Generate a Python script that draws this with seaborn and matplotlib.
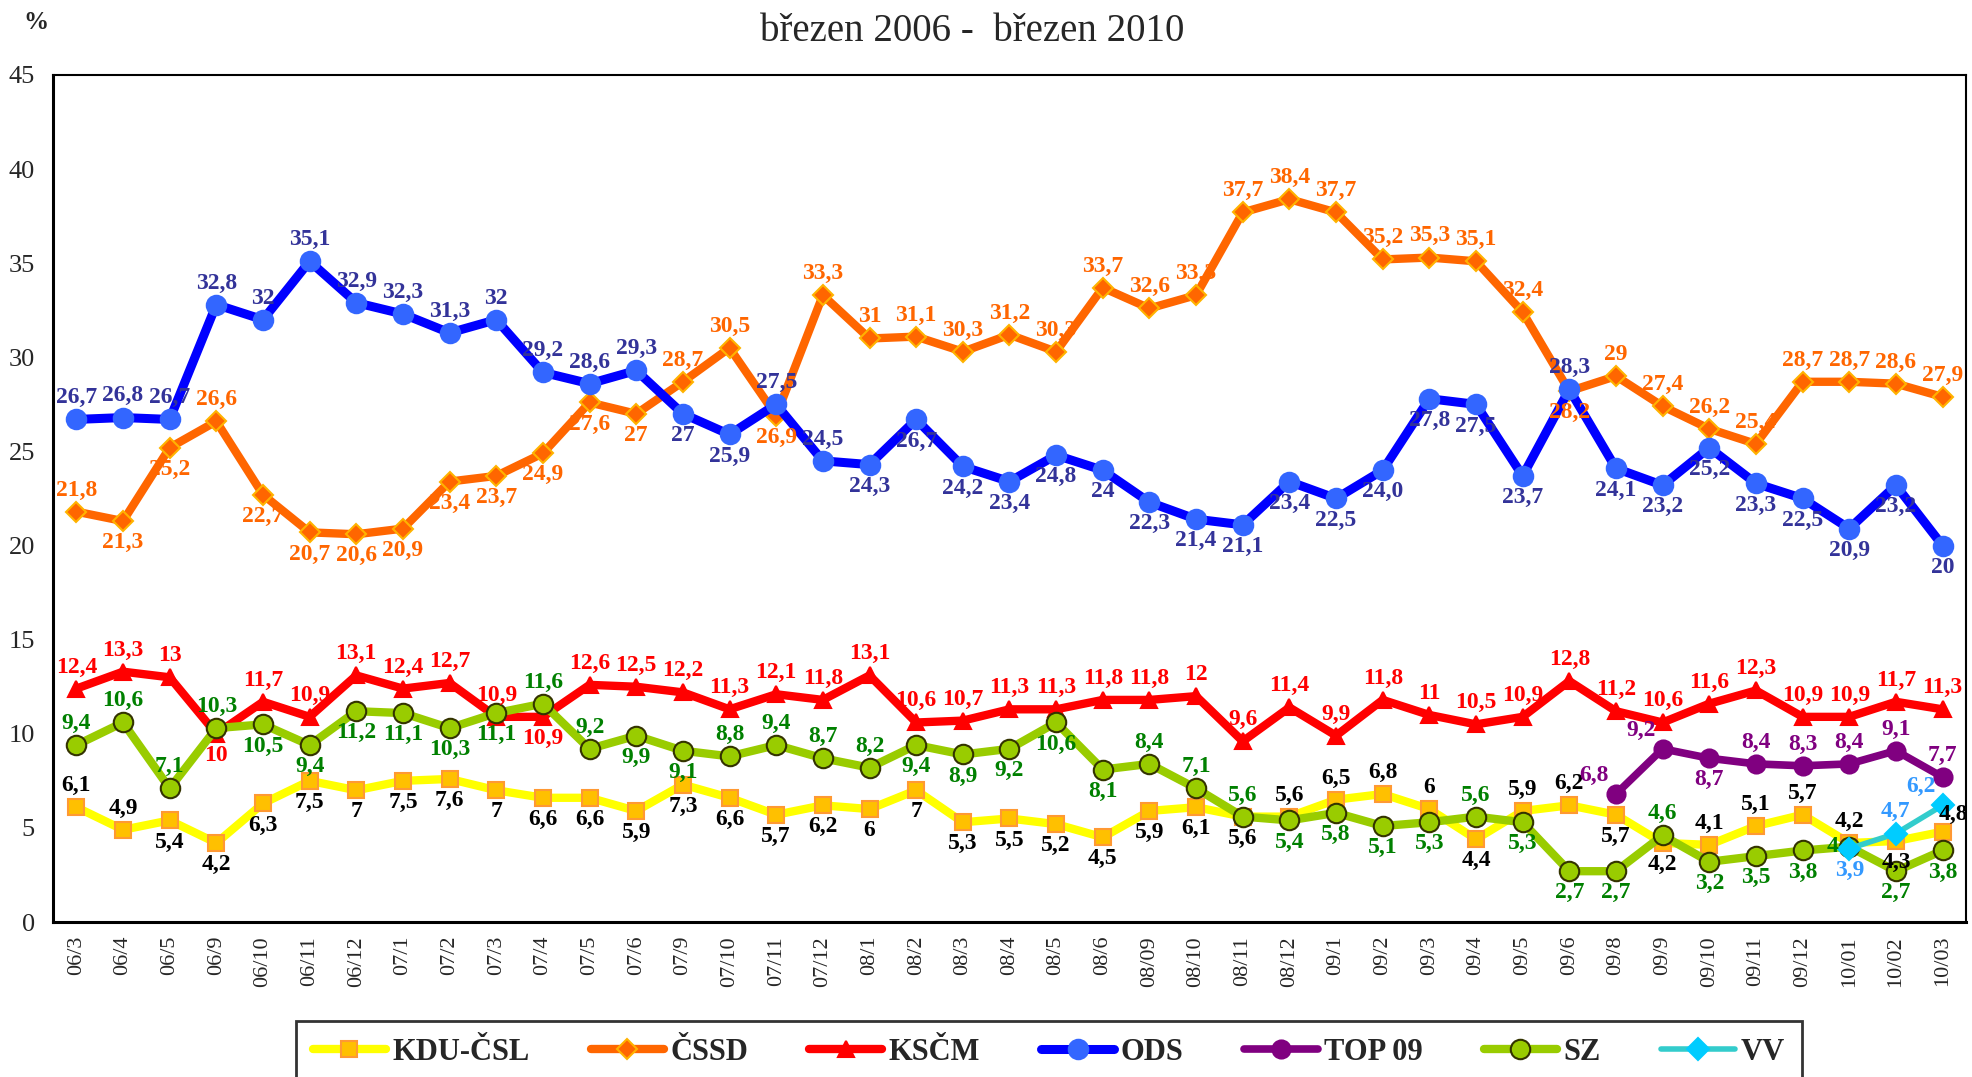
import numpy as np
import pandas as pd
import seaborn as sns
import matplotlib.pyplot as plt

nan = np.nan

months = ['06/3', '06/4', '06/5', '06/9', '06/10', '06/11', '06/12', '07/1', '07/2', '07/3',
          '07/4', '07/5', '07/6', '07/9', '07/10', '07/11', '07/12', '08/1', '08/2', '08/3',
          '08/4', '08/5', '08/6', '08/09', '08/10', '08/11', '08/12', '09/1', '09/2', '09/3',
          '09/4', '09/5', '09/6', '09/8', '09/9', '09/10', '09/11', '09/12', '10/01', '10/02', '10/03']

kdu = [6.1, 4.9, 5.4, 4.2, 6.3, 7.5, 7, 7.5, 7.6, 7, 6.6, 6.6, 5.9, 7.3, 6.6, 5.7, 6.2, 6, 7, 5.3,
       5.5, 5.2, 4.5, 5.9, 6.1, 5.6, 5.6, 6.5, 6.8, 6, 4.4, 5.9, 6.2, 5.7, 4.2, 4.1, 5.1, 5.7, 4.2, 4.3, 4.8]
cssd = [21.8, 21.3, 25.2, 26.6, 22.7, 20.7, 20.6, 20.9, 23.4, 23.7, 24.9, 27.6, 27, 28.7, 30.5, 26.9,
        33.3, 31, 31.1, 30.3, 31.2, 30.3, 33.7, 32.6, 33.3, 37.7, 38.4, 37.7, 35.2, 35.3, 35.1, 32.4,
        28.2, 29, 27.4, 26.2, 25.4, 28.7, 28.7, 28.6, 27.9]
kscm = [12.4, 13.3, 13, 10, 11.7, 10.9, 13.1, 12.4, 12.7, 10.9, 10.9, 12.6, 12.5, 12.2, 11.3, 12.1,
        11.8, 13.1, 10.6, 10.7, 11.3, 11.3, 11.8, 11.8, 12, 9.6, 11.4, 9.9, 11.8, 11, 10.5, 10.9,
        12.8, 11.2, 10.6, 11.6, 12.3, 10.9, 10.9, 11.7, 11.3]
ods = [26.7, 26.8, 26.7, 32.8, 32, 35.1, 32.9, 32.3, 31.3, 32, 29.2, 28.6, 29.3, 27, 25.9, 27.5,
       24.5, 24.3, 26.7, 24.2, 23.4, 24.8, 24, 22.3, 21.4, 21.1, 23.4, 22.5, 24.0, 27.8, 27.5, 23.7,
       28.3, 24.1, 23.2, 25.2, 23.3, 22.5, 20.9, 23.2, 20]
top09 = [nan] * 33 + [6.8, 9.2, 8.7, 8.4, 8.3, 8.4, 9.1, 7.7]
sz = [9.4, 10.6, 7.1, 10.3, 10.5, 9.4, 11.2, 11.1, 10.3, 11.1, 11.6, 9.2, 9.9, 9.1, 8.8, 9.4, 8.7,
      8.2, 9.4, 8.9, 9.2, 10.6, 8.1, 8.4, 7.1, 5.6, 5.4, 5.8, 5.1, 5.3, 5.6, 5.3, 2.7, 2.7, 4.6,
      3.2, 3.5, 3.8, 4, 2.7, 3.8]
vv = [nan] * 38 + [3.9, 4.7, 6.2]

# where each data label sits: a=above, b=below, l=left, r=right, L=upper left
pos_kdu = "aa" + "b" * 24 + "aaaa" + "b" + "aa" + "bb" + "aaaa" + "b" + "r"
pos_cssd = "abbabbbbbbbbbaaba" + "a" * 15 + "b" + "a" * 8
pos_kscm = "aaabaaaaaabaaaaaaaaaaaaaaaaaaaaaaaaaaaaaa"
pos_ods = "a" * 13 + "bb" + "aa" + "b" * 15 + "a" + "b" * 8
pos_top = "-" * 33 + "LLbaaaaa"
pos_sz = "aaaabbbbbb" + "aabbaaaabbbbb" + "aaa" + "bbbb" + "a" + "bbb" + "a" + "bbb" + "l" + "bb"
pos_vv = "-" * 38 + "baL"

label_override = {('ODS', 28): '24,0'}

sns.set_style('white')
plt.rcParams['font.family'] = ['Liberation Serif', 'DejaVu Serif']

series = [
    # name, values, line colour, lw, marker, ms, face, edge, label colour, positions
    ('KDU-ČSL', kdu, '#FFFF00', 6, 's', 12, '#FFC000', '#FF9933', 'black', pos_kdu),
    ('ČSSD', cssd, '#FF6600', 6, 'D', 10, '#FF6600', '#FFB300', '#FF6600', pos_cssd),
    ('KSČM', kscm, '#FF0000', 6, '^', 12, '#FF0000', '#FF0000', '#FF0000', pos_kscm),
    ('ODS', ods, '#0000FF', 6.5, 'o', 14, '#3366FF', '#3366FF', '#333399', pos_ods),
    ('TOP 09', top09, '#800080', 5.5, 'o', 13, '#800080', '#800080', '#800080', pos_top),
    ('SZ', sz, '#99CC00', 6, 'o', 14, '#99CC00', '#333300', '#008000', pos_sz),
    ('VV', vv, '#33CCCC', 4, 'D', 11, '#00CCFF', '#00CCFF', '#3399FF', pos_vv),
]

offsets = {
    'a': ((0, 8), 'center', 'bottom'),
    'b': ((0, -8), 'center', 'top'),
    'l': ((-8, 0), 'right', 'center'),
    'r': ((-3, 5), 'left', 'bottom'),
    'L': ((-5, 6), 'right', 'bottom'),
}

fig = plt.figure(figsize=(19.72, 10.77), dpi=100)
ax = fig.add_axes([0.0269, 0.1439, 0.970, 0.7865])

x = np.arange(len(months))
for z, (name, vals, lc, lw, mk, ms, mfc, mec, tc, pos) in enumerate(series):
    df = pd.DataFrame({'x': x, 'y': vals}).dropna()
    sns.lineplot(data=df, x='x', y='y', ax=ax, color=lc, linewidth=lw, marker=mk,
                 markersize=ms, markerfacecolor=mfc, markeredgecolor=mec,
                 markeredgewidth=1.5, label=name, zorder=3 + z,
                 solid_joinstyle='round', solid_capstyle='round')
    for i, v in enumerate(vals):
        if np.isnan(v):
            continue
        txt = label_override.get((name, i), f"{v:g}".replace('.', ','))
        off, ha, va = offsets[pos[i]]
        ax.annotate(txt, (i, v), xytext=off, textcoords='offset points', ha=ha, va=va,
                    color=tc, fontsize=17, fontweight='bold', zorder=20)

ax.set_xlim(-0.5, len(months) - 0.5)
ax.set_ylim(0, 45)
ax.set_yticks(range(0, 46, 5))
ax.set_xticks(x - 0.5, minor=False)
ax.set_xticks(x, minor=True)
ax.set_xticklabels([''] * len(x))
ax.set_xticklabels(months, minor=True, rotation=90, fontsize=16)
ax.tick_params(axis='x', which='major', length=9, width=1.5, direction='out')
ax.tick_params(axis='x', which='minor', length=0, pad=10)
ax.tick_params(axis='y', length=9, width=1.5, direction='out', labelsize=19, pad=4)
ax.set_xlabel('')
ax.set_ylabel('')
for s in ax.spines.values():
    s.set_color('black')
    s.set_linewidth(1.5)
ax.spines['left'].set_linewidth(2.2)
ax.spines['bottom'].set_linewidth(2.2)

handles, labels = ax.get_legend_handles_labels()
ax.get_legend().remove()
leg = fig.legend(handles, labels, loc='upper left', bbox_to_anchor=(296 / 1972, 1 - 1021 / 1077),
                 ncol=7, frameon=True, fancybox=False, edgecolor='black',
                 prop={'weight': 'bold', 'size': 22}, handlelength=2.4, columnspacing=2.0,
                 borderpad=0.55, borderaxespad=0, handletextpad=0.2)
leg.get_frame().set_linewidth(2)

fig.text(0.493, 0.971, 'březen 2006 -  březen 2010', ha='center', va='center', fontsize=28)
fig.text(0.018, 0.979, '%', ha='center', va='center', fontsize=18, fontweight='bold')

fig.savefig('out.png', dpi=100)
